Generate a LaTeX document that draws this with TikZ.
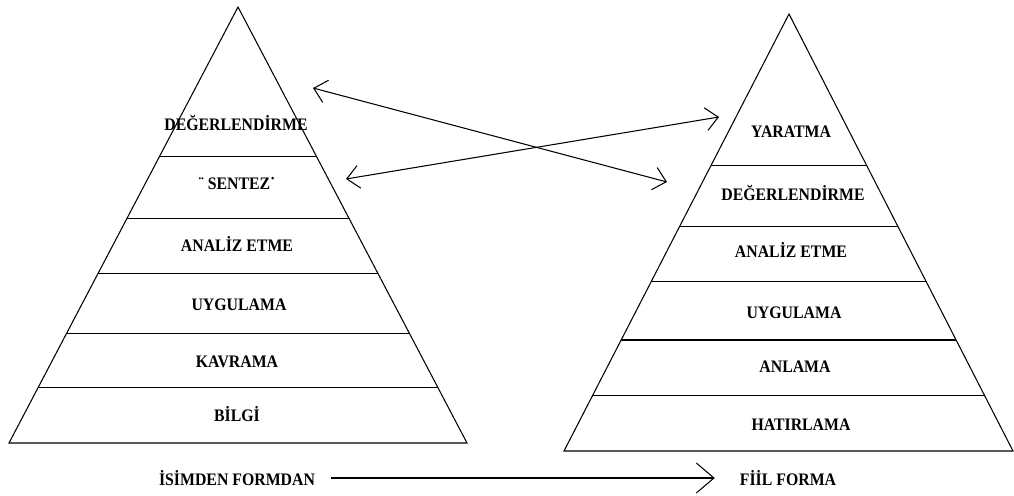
\documentclass[tikz,border=0pt]{standalone}
\usepackage{fontspec}
\setmainfont{Liberation Serif}[FakeStretch=0.9]
\usepackage{tikz}
\usetikzlibrary{arrows.meta,calc}

\tikzset{
  level/.style={font=\fontsize{10}{12}\selectfont\bfseries, inner sep=1pt},
  barb/.style={{Straight Barb[length=7pt,width=13pt]}-{Straight Barb[length=7pt,width=13pt]}},
}

\begin{document}
\begin{tikzpicture}[x=0.02cm, y=-0.02cm, line width=0.6pt]
		\useasboundingbox (0,0) rectangle (1014,496);
		
		% sol piramit
		\coordinate (LA) at (238,7);
		\coordinate (LB) at (9,443);
		\coordinate (LC) at (467,443);
		\draw (LA) -- (LB) -- (LC) -- cycle;
		\foreach \t in {0.342,0.486,0.612,0.748,0.872}
			\draw ($(LA)!\t!(LB)$) -- ($(LA)!\t!(LC)$);
		
		\node[level] (l1) at (236,123) {DEĞERLENDİRME};
		\node[level] (l2) at (237,183) {¨ SENTEZ˙};
		\node[level] (l3) at (237,244) {ANALİZ ETME};
		\node[level] (l4) at (239,305) {UYGULAMA};
		\node[level] (l5) at (237,362) {KAVRAMA};
		\node[level] (l6) at (237,414) {BİLGİ};
		
		% sag piramit
		\coordinate (RA) at (789,14);
		\coordinate (RB) at (564,451);
		\coordinate (RC) at (1013,451);
		\draw (RA) -- (RB) -- (RC) -- cycle;
		\foreach \t in {0.346,0.487,0.613,0.746,0.872}
			\draw ($(RA)!\t!(RB)$) -- ($(RA)!\t!(RC)$);
		
		\node[level] (r1) at (791,132) {YARATMA};
		\node[level] (r2) at (793,193) {DEĞERLENDİRME};
		\node[level] (r3) at (791,250) {ANALİZ ETME};
		\node[level] (r4) at (794,313) {UYGULAMA};
		\node[level] (r5) at (795,367) {ANLAMA};
		\node[level] (r6) at (801,425) {HATIRLAMA};
		
		% capraz oklar
		\coordinate (a1) at (313,88);
		\coordinate (b1) at (667,182);
		\coordinate (a2) at (346,179);
		\coordinate (b2) at (719,117);
		\draw[barb] (a1) -- (b1);
		\draw[barb] (a2) -- (b2);
		
		% alt
		\node[level] (isim) at (237,478) {İSİMDEN FORMDAN};
		\node[level] (fiil) at (788,478) {FİİL FORMA};
		\draw[-{Straight Barb[length=10pt,width=17pt]}, shorten <=8pt, shorten >=13pt] (isim.east) -- (fiil.west);
	\end{tikzpicture}
\end{document}
